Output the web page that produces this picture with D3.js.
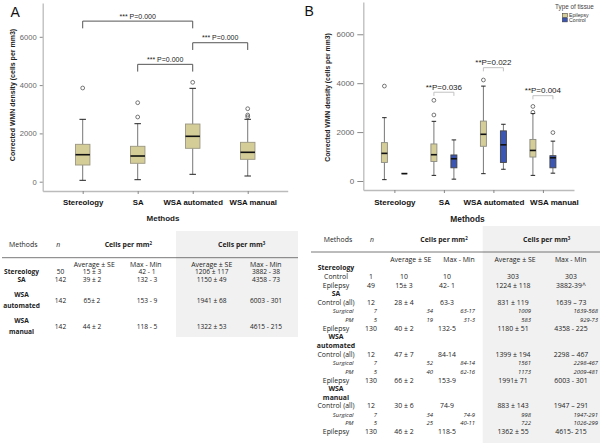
<!DOCTYPE html>
<html>
<head>
<meta charset="utf-8">
<script src="https://cdn.jsdelivr.net/npm/d3@7"></script>
<style>
  body { margin: 0; background: #fff; }
  svg text { font-family: "Liberation Sans", Arial, sans-serif; }
  .tbl text { font-family: "Open Sans", Lato, sans-serif; font-size: 6.9px; fill: #222; }
</style>
</head>
<body>
<svg id="fig" width="600" height="443"></svg>
<script>
// ---- data ----
const methods = ["Stereology", "SA", "WSA automated", "WSA manual"];
const tissues = ["Epilepsy", "Control"];
const yTicks = [0, 2000, 4000, 6000];

// box stats: [lower whisker, Q1, median, Q3, upper whisker]
const statsA = [[57, 691, 1118, 1548, 2583], [83, 762, 1064, 1466, 2402], [306, 1383, 1880, 2389, 3866], [236, 927, 1217, 1631, 2583]];
const outliersA = [[3880], [2679, 3271], [4115], [2692, 2761, 3022]];

const statsEpilepsy = [[55, 760, 1130, 1570, 2590], [230, 800, 1075, 1515, 2440], [300, 1420, 1910, 2450, 3880], [230, 980, 1250, 1700, 2760]];
const outliersEpilepsy = [[3882], [2700, 3300], [4130], [2810, 3050]];
const statsControl = [[303, 303, 303, 303, 303], [75, 540, 910, 1065, 1680], [480, 760, 1480, 2050, 2320], [320, 540, 950, 1035, 1630]];
const outliersControl = [[], [], [], [1980]];

// significance brackets: [from, to, height, label]
const bracketsA = [["Stereology", "WSA automated", 6650, "*** P=0.000"], ["SA", "WSA automated", 4860, "*** P=0.000"], ["WSA automated", "WSA manual", 5755, "*** P=0.000"]];
const bracketsB = [["SA", 3630, "**P=0.036"], ["WSA automated", 4635, "**P=0.022"], ["WSA manual", 3490, "**P=0.004"]];

// table A rows: method, n, avg mm2, range mm2, avg mm3, range mm3
const tableA = [
  ["Stereology", "50", "15 ± 3", "42 - 1", "1206 ± 117", "3882 - 38"],
  ["SA", "142", "39 ± 2", "132 - 3", "1150 ± 49", "4358 - 73"],
  ["WSA|automated", "142", "65± 2", "153 - 9", "1941 ± 68", "6003 - 301"],
  ["WSA|manual", "142", "44 ± 2", "118 - 5", "1322 ± 53", "4615 - 215"]
];
// table B rows: kind, label, n, avg mm2, range mm2, avg mm3, range mm3
const tableB = [
  ["group", "Stereology"],
  ["row", "Control", "1", "10", "10", "303", "303"],
  ["row", "Epilepsy", "49", "15± 3", "42- 1", "1224 ± 118", "3882-39^"],
  ["group", "SA"],
  ["row", "Control (all)", "12", "28 ± 4", "63-3", "831 ± 119", "1639 – 73"],
  ["sub", "Surgical", "7", "34", "63-17", "1009", "1639-568"],
  ["sub", "PM", "5", "19", "31-3", "583", "929-73"],
  ["row", "Epilepsy", "130", "40 ± 2", "132-5", "1180 ± 51", "4358 - 225"],
  ["group", "WSA"],
  ["group", "automated"],
  ["row", "Control (all)", "12", "47 ± 7", "84-14", "1399 ± 194", "2298 – 467"],
  ["sub", "Surgical", "7", "52", "84-14", "1561", "2298-467"],
  ["sub", "PM", "5", "40", "62-16", "1173", "2009-481"],
  ["row", "Epilepsy", "130", "66 ± 2", "153-9", "1991± 71", "6003 - 301"],
  ["group", "WSA"],
  ["group", "manual"],
  ["row", "Control (all)", "12", "30 ± 6", "74-9", "883 ± 143", "1947 – 291"],
  ["sub", "Surgical", "7", "34", "74-9", "998", "1947-291"],
  ["sub", "PM", "5", "25", "40-11", "722", "1026-299"],
  ["row", "Epilepsy", "130", "46 ± 2", "118-5", "1362 ± 55", "4615- 215"]
];

const tan = "#d5cd98", blue = "#3c56b4";
const svg = d3.select("#fig");

// draw a set of boxplots
function drawBoxes(g, stats, outs, xf, y, w, capW, fill, stroke) {
  stats.forEach((s, i) => {
    const cx = xf(i);
    const b = g.append("g");
    b.append("line").attr("x1", cx).attr("x2", cx).attr("y1", y(s[0])).attr("y2", y(s[1])).attr("stroke", "#777");
    b.append("line").attr("x1", cx).attr("x2", cx).attr("y1", y(s[3])).attr("y2", y(s[4])).attr("stroke", "#777");
    [s[0], s[4]].forEach(v => b.append("line")
      .attr("x1", cx - capW / 2).attr("x2", cx + capW / 2).attr("y1", y(v)).attr("y2", y(v))
      .attr("stroke", "#222").attr("stroke-width", 1));
    b.append("rect").attr("x", cx - w / 2).attr("y", y(s[3])).attr("width", w).attr("height", y(s[1]) - y(s[3]))
      .attr("fill", fill).attr("stroke", stroke).attr("stroke-width", 0.9);
    b.append("line").attr("x1", cx - w / 2).attr("x2", cx + w / 2).attr("y1", y(s[2])).attr("y2", y(s[2]))
      .attr("stroke", "#111").attr("stroke-width", 1.6);
    b.selectAll("circle").data(outs[i]).enter().append("circle")
      .attr("cx", cx).attr("cy", d => y(d)).attr("r", 1.9)
      .attr("fill", "none").attr("stroke", "#555").attr("stroke-width", 0.8);
  });
}

function styleAxes(gy, gx, tickFont, xFont) {
  gy.select(".domain").attr("stroke", "#bbb").attr("stroke-width", 1.3);
  gy.selectAll(".tick line").attr("stroke", "#888");
  gy.selectAll(".tick text").attr("fill", "#666").style("font-size", tickFont + "px").style("font-family", "Liberation Sans, Arial, sans-serif");
  gx.select(".domain").attr("stroke", "#bbb").attr("stroke-width", 1.3);
  gx.selectAll(".tick line").attr("stroke", "#888");
  gx.selectAll(".tick text").attr("fill", "#111").style("font-size", xFont + "px").style("font-weight", "bold")
    .style("font-family", "Liberation Sans, Arial, sans-serif");
}

// ---------- Panel A ----------
const xA = d3.scalePoint().domain(methods).range([42.7, 287.7]).padding(0.727);
const yA = d3.scaleLinear().domain([-385, 7400]).range([191, 3]);
const gA = svg.append("g");

const gyA = gA.append("g").attr("transform", "translate(42.7,0)")
  .call(d3.axisLeft(yA).tickValues(yTicks).tickFormat(d3.format("d")).tickSize(3).tickSizeOuter(0).tickPadding(3));
const gxA = gA.append("g").attr("transform", "translate(0,191)")
  .call(d3.axisBottom(xA).tickSize(3).tickSizeOuter(0).tickPadding(5));
styleAxes(gyA, gxA, 7.6, 7.8);
gxA.selectAll(".tick text").attr("dx", d => d === "WSA manual" ? 5 : 0);

drawBoxes(gA, statsA, outliersA, i => xA(methods[i]), yA, 14.5, 6.5, tan, "#9a9680");

bracketsA.forEach(([a, b, h, lab]) => {
  const x1 = xA(a), x2 = xA(b), yt = yA(h), yb = yA(h - 300);
  gA.append("path").attr("d", `M${x1},${yb}V${yt}H${x2}V${yb}`).attr("fill", "none").attr("stroke", "#555").attr("stroke-width", 1);
  gA.append("text").attr("x", (x1 + x2) / 2).attr("y", yt - 2.6).attr("text-anchor", "middle")
    .style("font-size", "7px").attr("fill", "#222").text(lab);
});

gA.append("text").attr("transform", "translate(15.2,95) rotate(-90)").attr("text-anchor", "middle")
  .style("font-size", "7px").style("font-weight", "bold").attr("fill", "#222")
  .text("Corrected WMN density (cells per mm3)");
gA.append("text").attr("x", 163).attr("y", 221).attr("text-anchor", "middle")
  .style("font-size", "8px").style("font-weight", "bold").attr("fill", "#222").text("Methods");
gA.append("text").attr("x", 10.5).attr("y", 16.8).style("font-size", "14px").attr("fill", "#111").text("A");

// ---------- Panel B ----------
const xB = d3.scalePoint().domain(methods).range([363.3, 574]).padding(0.628);
const sub = d3.scalePoint().domain(tissues).range([-10, 10]);
const yB = d3.scaleLinear().domain([-368, 7320]).range([190, 2]);
const gB = svg.append("g");

const gyB = gB.append("g").attr("transform", "translate(363.3,0)")
  .call(d3.axisLeft(yB).tickValues(yTicks).tickFormat(d3.format("d")).tickSize(6).tickSizeOuter(0).tickPadding(3));
const gxB = gB.append("g").attr("transform", "translate(0,190)")
  .call(d3.axisBottom(xB).tickSize(3).tickSizeOuter(0).tickPadding(6));
styleAxes(gyB, gxB, 8, 8);
gxB.selectAll(".tick text").attr("dx", d => d === "WSA manual" ? 11 : 0);

drawBoxes(gB, statsEpilepsy, outliersEpilepsy, i => xB(methods[i]) + sub("Epilepsy"), yB, 6, 4.5, tan, "#8a8a80");
drawBoxes(gB, statsControl, outliersControl, i => xB(methods[i]) + sub("Control"), yB, 6, 4.5, blue, "#444");

bracketsB.forEach(([m, h, lab]) => {
  const x1 = xB(m) + sub("Epilepsy"), x2 = xB(m) + sub("Control"), yt = yB(h), yb = yB(h - 150);
  gB.append("path").attr("d", `M${x1},${yb}V${yt}H${x2}V${yb}`).attr("fill", "none").attr("stroke", "#bbb").attr("stroke-width", 0.9);
  gB.append("text").attr("x", (x1 + x2) / 2).attr("y", yt - 2.5).attr("text-anchor", "middle")
    .style("font-size", "8px").attr("fill", "#222").text(lab);
});

gB.append("text").attr("transform", "translate(329.6,97.5) rotate(-90)").attr("text-anchor", "middle")
  .style("font-size", "6.8px").style("font-weight", "bold").attr("fill", "#222")
  .text("Corrected WMN density (cells per mm3)");
gB.append("text").attr("x", 467.5).attr("y", 222).attr("text-anchor", "middle")
  .style("font-size", "8.4px").style("font-weight", "bold").attr("fill", "#222").text("Methods");
gB.append("text").attr("x", 304.5).attr("y", 16).style("font-size", "14px").attr("fill", "#111").text("B");

// legend
const lg = gB.append("g");
lg.append("text").attr("x", 555).attr("y", 8.5).style("font-size", "6.3px").attr("fill", "#444").text("Type of tissue");
tissues.forEach((t, i) => {
  lg.append("rect").attr("x", 562.3).attr("y", 13.3 + i * 4.6).attr("width", 5).attr("height", 4)
    .attr("fill", t === "Epilepsy" ? tan : blue).attr("stroke", "#333").attr("stroke-width", 0.5);
  lg.append("text").attr("x", 569).attr("y", 16.9 + i * 4.6).style("font-size", "5.2px").attr("fill", "#333").text(t);
});

// ---------- Tables ----------
function supText(g, x, y, base, sup) {
  const t = g.append("text").attr("x", x).attr("y", y).attr("dy", "0.35em").attr("text-anchor", "middle")
    .style("font-weight", "bold");
  t.append("tspan").text(base);
  t.append("tspan").attr("dy", "-0.45em").style("font-size", "4.4px").text(sup);
  return t;
}

// table A
const tA = svg.append("g").attr("class", "tbl");
tA.append("rect").attr("x", 176).attr("y", 231).attr("width", 122).attr("height", 106).attr("fill", "#f1f1f1");
tA.append("line").attr("x1", 2).attr("x2", 298).attr("y1", 257.7).attr("y2", 257.7).attr("stroke", "#555").attr("stroke-width", 0.8);
tA.append("text").attr("x", 23.3).attr("y", 245).attr("dy", "0.35em").attr("text-anchor", "middle").text("Methods");
tA.append("text").attr("x", 58.3).attr("y", 245).attr("dy", "0.35em").attr("text-anchor", "middle").style("font-style", "italic").text("n");
supText(tA, 128.3, 245, "Cells per mm", "2");
supText(tA, 241.7, 245, "Cells per mm", "3");
const colA = [21.5, 60.5, 92, 147, 211.7, 266];
[[94.2, "Average ± SE"], [145.8, "Max - Min"], [211.7, "Average ± SE"], [265.8, "Max - Min"]].forEach(([x, s]) =>
  tA.append("text").attr("x", x).attr("y", 264.2).attr("dy", "0.35em").attr("text-anchor", "middle").text(s));
const rowsYA = [272, 280, 300.3, 326.6];
tableA.forEach((r, i) => {
  const yy = rowsYA[i];
  const names = r[0].split("|");
  names.forEach((nm, k) => {
    tA.append("text").attr("x", colA[0]).attr("y", names.length > 1 ? yy + (k - 0.5) * 11 : yy).attr("dy", "0.35em")
      .attr("text-anchor", "middle").style("font-weight", "bold").style("font-size", "6.6px").text(nm);
  });
  r.slice(1).forEach((v, k) => tA.append("text").attr("x", colA[k + 1]).attr("y", yy).attr("dy", "0.35em")
    .attr("text-anchor", "middle").style("font-size", "6.6px").text(v));
});

// table B
const tB = svg.append("g").attr("class", "tbl");
tB.append("rect").attr("x", 482.7).attr("y", 226).attr("width", 117.3).attr("height", 217).attr("fill", "#f1f1f1");
tB.append("line").attr("x1", 311).attr("x2", 600).attr("y1", 252).attr("y2", 252).attr("stroke", "#555").attr("stroke-width", 0.8);
tB.append("text").attr("x", 338).attr("y", 239.5).attr("dy", "0.35em").attr("text-anchor", "middle").text("Methods");
tB.append("text").attr("x", 372).attr("y", 239.5).attr("dy", "0.35em").attr("text-anchor", "middle").style("font-style", "italic").text("n");
supText(tB, 444, 239.5, "Cells per mm", "2");
supText(tB, 546.7, 239.5, "Cells per mm", "3");
[[410.8, "Average ± SE"], [459, "Max - Min"], [515, "Average ± SE"], [570.7, "Max - Min"]].forEach(([x, s]) =>
  tB.append("text").attr("x", x).attr("y", 259.5).attr("dy", "0.35em").attr("text-anchor", "middle").text(s));
const colB = [336, 371, 404, 447, 513, 571];
const colSubB = [353.5, 377, 433, 475, 531, 598];
tableB.forEach((r, i) => {
  const yy = 268 + i * 8.63;
  if (r[0] === "group") {
    tB.append("text").attr("x", colB[0]).attr("y", yy).attr("dy", "0.35em").attr("text-anchor", "middle")
      .style("font-weight", "bold").text(r[1]);
  } else if (r[0] === "row") {
    r.slice(1).forEach((v, k) => tB.append("text").attr("x", colB[k]).attr("y", yy).attr("dy", "0.35em")
      .attr("text-anchor", "middle").text(v));
  } else {
    r.slice(1).forEach((v, k) => tB.append("text").attr("x", colSubB[k]).attr("y", yy).attr("dy", "0.35em")
      .attr("text-anchor", "end").style("font-style", "italic").style("font-size", "5.9px").text(v));
  }
});
</script>
</body>
</html>
